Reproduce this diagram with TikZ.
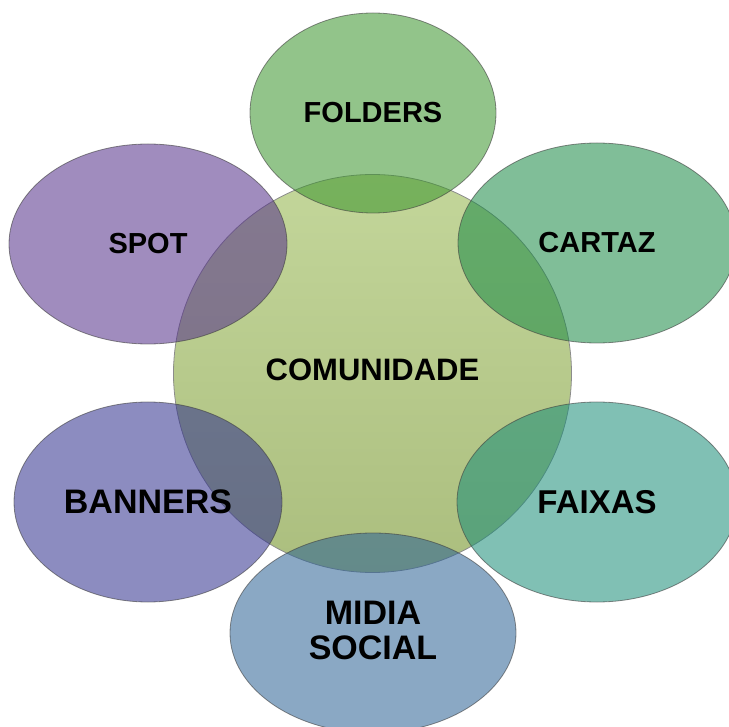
\documentclass[tikz,border=0pt]{standalone}
\usepackage{fontspec}
\setsansfont{Liberation Sans}
\usetikzlibrary{shapes.geometric}
\definecolor{hubtop}{HTML}{C3D69A}
\definecolor{hubbottom}{HTML}{ABBE7E}
\definecolor{folderscol}{HTML}{39942A}
\definecolor{cartazcol}{HTML}{188944}
\definecolor{faixascol}{HTML}{188C77}
\definecolor{midiacol}{HTML}{2A6194}
\definecolor{bannerscol}{HTML}{2E2E8C}
\definecolor{spotcol}{HTML}{522E89}
\tikzset{
    base/.style={text centered, text=black, inner sep=0pt},
    labelfont/.style={font=\sffamily\bfseries\fontsize{#1}{#1}\selectfont},
    hub/.style={base, circle, minimum size=398pt, draw=black!45, line width=0.8pt, top color=hubtop, bottom color=hubbottom},
    bubble/.style={base, ellipse, draw=black!75, draw opacity=0.6, line width=0.8pt, fill opacity=0.55, text opacity=1}
}
\begin{document}
\begin{tikzpicture}[x=1pt, y=-1pt]
        \clip (0,0) rectangle (729,727);
        % centre
        \node (comm) [hub, labelfont=31, text depth=8pt] at (372.5,373.5) {COMUNIDADE};

        % satellites
        \node (folders) [bubble, fill=folderscol, minimum width=246pt, minimum height=200pt, labelfont=29] at (373,113) {FOLDERS};
        \node (cartaz) [bubble, fill=cartazcol, minimum width=278pt, minimum height=200pt, labelfont=29] at (597,243) {CARTAZ};
        \node (faixas) [bubble, fill=faixascol, minimum width=280pt, minimum height=200pt, labelfont=33] at (597,502) {FAIXAS};
        \node (midia) [bubble, fill=midiacol, minimum width=286pt, minimum height=200pt, align=center, text depth=6pt, font=\sffamily\bfseries\fontsize{34}{35}\selectfont] at (373,633) {MIDIA\\SOCIAL};
        \node (banners) [bubble, fill=bannerscol, minimum width=268pt, minimum height=200pt, labelfont=34] at (148,502) {BANNERS};
        \node (spot) [bubble, fill=spotcol, minimum width=278pt, minimum height=200pt, labelfont=29] at (148,244) {SPOT};
\end{tikzpicture}
\end{document}
